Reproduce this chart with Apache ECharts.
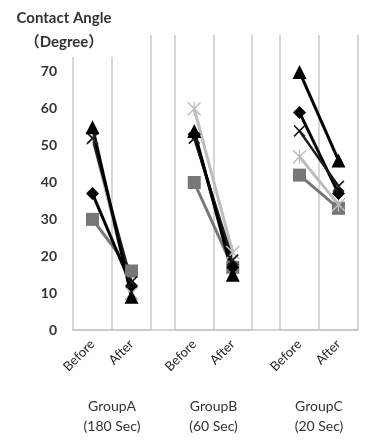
<!DOCTYPE html>
<html><head><meta charset="utf-8">
<script src="https://cdn.jsdelivr.net/npm/echarts@6/dist/echarts.min.js"></script>
<style>html,body{margin:0;padding:0;background:#fff}#c{width:370px;height:446px}</style>
</head><body><div id="c"></div>
<script>
const categories = ['Before', 'After'];
const groupNames = ['GroupA\n(180 Sec)', 'GroupB\n(60 Sec)', 'GroupC\n(20 Sec)'];
const yTicks = [0, 10, 20, 30, 40, 50, 60, 70];
// values per group: [A-before, A-after, B-before, B-after, C-before, C-after]
const squareVals   = [30, 16, 40, 17, 42, 33];
const asteriskVals = [52, 10, 60, 21, 47, 34];
const diamondVals  = [37, 12, 53, 17, 59, 37];
const crossVals    = [52, 13, 52, 19, 54, 39];
const triangleVals = [55, 9, 54, 15, 70, 46];

const FONT = 'Lato';
const crossPath = 'path://M0,2 L2,0 L10,8 L18,0 L20,2 L12,10 L20,18 L18,20 L10,12 L2,20 L0,18 L8,10 Z';
const asteriskPath = 'path://M0,1.5 L1.5,0 L10,8.5 L18.5,0 L20,1.5 L11.5,10 L20,18.5 L18.5,20 L10,11.5 L1.5,20 L0,18.5 L8.5,10 Z M9.1,0 L10.9,0 L10.9,20 L9.1,20 Z';

const seriesDefs = [
  {name: 'Square', vals: squareVals, color: '#777777', symbol: 'rect', size: 13, width: 3},
  {name: 'Asterisk', vals: asteriskVals, color: '#bdbdbd', symbol: asteriskPath, size: 14, width: 3},
  {name: 'Diamond', vals: diamondVals, color: '#000000', symbol: 'diamond', size: 13, width: 3},
  {name: 'Cross', vals: crossVals, color: '#1a1a1a', symbol: crossPath, size: 12, width: 2.5},
  {name: 'Triangle', vals: triangleVals, color: '#000000', symbol: 'triangle', size: 14, width: 3}
];

const gridDefs = [
  {left: 73, width: 78},
  {left: 175, width: 77},
  {left: 280, width: 78}
];
const grids = gridDefs.map(g => ({left: g.left, width: g.width, top: 35, bottom: 116}));
grids.push({left: 73, width: 285, top: 35, bottom: 116});

const xAxes = groupNames.map((gn, i) => ({
  type: 'category', gridIndex: i, data: categories,
  axisLine: {show: true, lineStyle: {color: '#c8c8c8', width: 1.5}},
  axisTick: {show: false},
  splitLine: {show: true, lineStyle: {color: '#c8c8c8', width: 1.5}},
  axisLabel: {rotate: 45, fontFamily: FONT, fontSize: 13, color: '#222', margin: 12, interval: 0},
  name: gn, nameLocation: 'middle', nameGap: 66,
  nameTextStyle: {fontFamily: FONT, fontSize: 14, color: '#333', lineHeight: 20}
}));
xAxes.push({type: 'value', gridIndex: 3, min: 0, max: 1,
  axisLine: {show: true, lineStyle: {color: '#c8c8c8', width: 1.5}},
  axisTick: {show: false}, axisLabel: {show: false}, splitLine: {show: false}});

const yAxes = [0, 1, 2, 3].map(i => ({
  type: 'value', gridIndex: i, min: 0, max: 80, interval: 10,
  axisLine: {show: false}, axisTick: {show: false}, splitLine: {show: false},
  axisLabel: i === 0 ? {
    show: true, fontFamily: FONT, fontSize: 14, fontWeight: 'bold', color: '#333', margin: 16,
    formatter: v => (yTicks.indexOf(v) >= 0 ? String(v) : '')
  } : {show: false}
}));

const series = [];
for (let g = 0; g < 3; g++) {
  seriesDefs.forEach(d => {
    series.push({
      type: 'line', name: d.name, xAxisIndex: g, yAxisIndex: g,
      data: [d.vals[2 * g], d.vals[2 * g + 1]],
      symbol: d.symbol, symbolSize: d.size, showSymbol: true,
      lineStyle: {color: d.color, width: d.width},
      itemStyle: {color: d.color, borderWidth: 0},
      animation: false, silent: true
    });
  });
}

const chart = echarts.init(document.getElementById('c'), null, {renderer: 'canvas'});
chart.setOption({
  backgroundColor: '#ffffff',
  animation: false,
  grid: grids,
  xAxis: xAxes,
  yAxis: yAxes,
  series: series,
  graphic: [
    {type: 'rect', z: 100, shape: {x: 8, y: 0, width: 110, height: 57}, style: {fill: '#ffffff'}},
    {type: 'text', z: 101,
      style: {text: 'Contact Angle', x: 64, y: 18, textAlign: 'center', textVerticalAlign: 'middle',
        font: 'bold 15px Lato', fill: '#333'}},
    {type: 'text', z: 101,
      style: {text: '（Degree）', x: 64, y: 42, textAlign: 'center', textVerticalAlign: 'middle',
        font: 'bold 15px Lato, "Noto Sans CJK JP"', fill: '#333'}}
  ]
});
</script></body></html>
